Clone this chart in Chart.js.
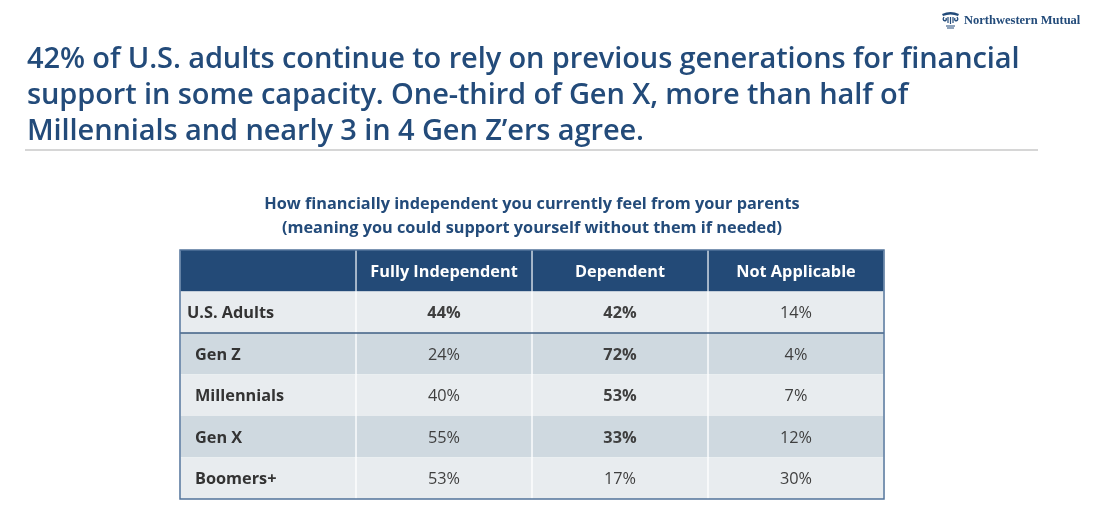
<!DOCTYPE html>
<html lang="en">
  <head>
    <meta charset="utf-8" />
    <style>
      body {
        margin: 0;
        width: 1106px;
        height: 526px;
        background: #ffffff;
        font-family: "Open Sans", "Noto Sans", sans-serif;
        overflow: hidden;
      }
      .wrapper {
        position: relative;
        width: 1106px;
        height: 526px;
      }
      .chart {
        position: absolute;
        left: 0;
        top: 0;
        width: 1106px;
        height: 526px;
      }
      .logo {
        position: absolute;
        left: 941px;
        top: 11px;
        display: flex;
        align-items: center;
        color: #234b7a;
        font-family: "Liberation Serif", "DejaVu Serif", serif;
        font-weight: bold;
        font-size: 12.5px;
      }
      .logo svg {
        margin-right: 4px;
      }
      .headline {
        position: absolute;
        left: 27px;
        top: 39px;
        margin: 0;
        color: #234b7a;
        font-size: 29px;
        font-weight: 600;
        line-height: 36px;
        letter-spacing: -0.1px;
      }
      .divider {
        position: absolute;
        left: 25px;
        top: 149px;
        width: 1013px;
        height: 2px;
        background: #d6d6d6;
      }
      .question {
        position: absolute;
        left: 182px;
        width: 700px;
        top: 191px;
        text-align: center;
        color: #234b7a;
        font-size: 16.3px;
        font-weight: 700;
        line-height: 24px;
      }
    </style>
  </head>
  <body>
    <div class="wrapper">
      <div class="chart">
        <canvas id="myChart"></canvas>
      </div>
      <div class="logo">
        <svg width="19" height="18" viewBox="0 0 19 18">
          <path d="M1 3 Q9.5 -1 18 3 L17 5 Q9.5 2 2 5 Z" fill="#234b7a" />
          <path d="M3 6 Q1 9 4 10 Q6 9 5 7" fill="none" stroke="#234b7a" stroke-width="1.3" />
          <path d="M16 6 Q18 9 15 10 Q13 9 14 7" fill="none" stroke="#234b7a" stroke-width="1.3" />
          <path d="M7 6 L7 12 M9.5 6 L9.5 13 M12 6 L12 12" stroke="#234b7a" stroke-width="1.2" />
          <path d="M5 15 L14 15 M6 17 L13 17" stroke="#234b7a" stroke-width="1.2" />
        </svg>
        <span>Northwestern Mutual</span>
      </div>
      <h1 class="headline">
        42% of U.S. adults continue to rely on previous generations for financial<br />
        support in some capacity. One-third of Gen X, more than half of<br />
        Millennials and nearly 3 in 4 Gen Z’ers agree.
      </h1>
      <div class="divider"></div>
      <div class="question">
        How financially independent you currently feel from your parents<br />
        (meaning you could support yourself without them if needed)
      </div>
    </div>

    <script src="https://cdn.jsdelivr.net/npm/chart.js@4.4.1/dist/chart.umd.min.js"></script>
    <script>
      // table content
      const groups = ["U.S. Adults", "Gen Z", "Millennials", "Gen X", "Boomers+"];
      const columns = ["Fully Independent", "Dependent", "Not Applicable"];
      const fullyIndependent = [44, 24, 40, 55, 53];
      const dependent = [42, 72, 53, 33, 17];
      const notApplicable = [14, 4, 7, 12, 30];
      // which values are printed bold
      const fullyIndependentBold = [true, false, false, false, false];
      const dependentBold = [true, true, true, true, false];
      const notApplicableBold = [false, false, false, false, false];

      const headerFill = "#234a77";
      const lightFill = "#e8ecef";
      const darkFill = "#cfd9e0";
      const cellFont = "'Open Sans', 'Noto Sans', sans-serif";

      const rowLabels = [""].concat(groups);
      const valueColumns = [fullyIndependent, dependent, notApplicable];
      const boldColumns = [fullyIndependentBold, dependentBold, notApplicableBold];

      // one floating bar per cell: column c spans c..c+1 on the x scale
      const datasets = [""].concat(columns).map((name, c) => ({
        label: name,
        data: rowLabels.map(() => [c, c + 1]),
        backgroundColor: (ctx) =>
          ctx.dataIndex === 0
            ? headerFill
            : ctx.dataIndex % 2 === 1
            ? lightFill
            : darkFill,
        borderColor: (ctx) =>
          ctx.dataIndex === 0 ? "rgba(220,228,236,0.9)" : "#ffffff",
        borderWidth: { left: 1, right: 1, top: 0, bottom: 0 },
        borderSkipped: false,
        barPercentage: 1,
        categoryPercentage: 1,
        grouped: false,
      }));

      function cellText(c, r) {
        if (r === 0) return c === 0 ? "" : columns[c - 1];
        if (c === 0) return groups[r - 1];
        return valueColumns[c - 1][r - 1] + "%";
      }

      const tablePlugin = {
        id: "tableText",
        afterDatasetsDraw(chart) {
          const ctx = chart.ctx;
          const area = chart.chartArea;
          ctx.save();
          ctx.textBaseline = "middle";
          chart.data.datasets.forEach((ds, c) => {
            const meta = chart.getDatasetMeta(c);
            meta.data.forEach((bar, r) => {
              const txt = cellText(c, r);
              if (!txt) return;
              const p = bar.getCenterPoint();
              const left = Math.min(bar.x, bar.base);
              let bold = r === 0 || c === 0 || boldColumns[c - 1][r - 1];
              ctx.font = (bold ? "700 " : "400 ") + "16.3px " + cellFont;
              ctx.fillStyle = r === 0 ? "#ffffff" : c === 0 ? "#333333" : "#3f3f3f";
              const y = p.y + (r === 0 ? 2 : 1.5);
              if (c === 0) {
                ctx.textAlign = "left";
                ctx.fillText(txt, left + (r === 1 ? 7 : 15), y);
              } else {
                ctx.textAlign = "center";
                ctx.fillText(txt, p.x, y);
              }
            });
          });

          // dark rule under the U.S. Adults row
          const first = chart.getDatasetMeta(0).data[1];
          const yLine = first.y + first.height / 2;
          ctx.strokeStyle = "#3f5f85";
          ctx.lineWidth = 1.5;
          ctx.beginPath();
          ctx.moveTo(area.left, yLine);
          ctx.lineTo(area.right, yLine);
          ctx.stroke();

          // outer frame
          ctx.strokeStyle = "#52739a";
          ctx.lineWidth = 1.5;
          ctx.strokeRect(area.left, area.top, area.right - area.left, area.bottom - area.top);
          ctx.restore();
        },
      };

      const ctx = document.getElementById("myChart");
      new Chart(ctx, {
        type: "bar",
        data: {
          labels: rowLabels,
          datasets: datasets,
        },
        options: {
          indexAxis: "y",
          responsive: true,
          maintainAspectRatio: false,
          animation: false,
          layout: {
            padding: { left: 180, right: 222, top: 250, bottom: 27 },
          },
          scales: {
            x: {
              type: "linear",
              min: 0,
              max: 4,
              display: false,
            },
            y: {
              type: "category",
              display: false,
            },
          },
          plugins: {
            legend: { display: false },
            tooltip: { enabled: false },
            title: { display: false },
          },
        },
        plugins: [tablePlugin],
      });
    </script>
  </body>
</html>
